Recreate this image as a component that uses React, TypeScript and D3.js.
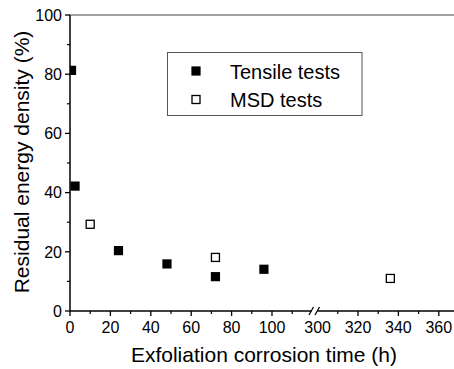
import React from "react";
import * as d3 from "d3";

const tensileX = [0.75, 2.5, 24, 48, 72, 96];
const tensileY = [81.3, 42.2, 20.4, 15.9, 11.6, 14.1];
const msdX = [10, 72, 336];
const msdY = [29.3, 18.1, 11.0];
const yTicks = [0, 20, 40, 60, 80, 100];
const yMinor = [10, 30, 50, 70, 90];
const x1Ticks = [0, 20, 40, 60, 80, 100];
const x1Minor = [10, 30, 50, 70, 90, 110];
const x2Ticks = [320, 340, 360];
const x2Minor = [310, 330, 350];
const x2LabelOnly = [300];
const legendLabels = ["Tensile tests", "MSD tests"];

const W = 454;
const H = 369;
const FONT = "'Liberation Sans', Arial, sans-serif";

export default function App() {
  const left = 70;
  const top = 15;
  const bottom = 311;
  const y = d3.scaleLinear().domain([0, 100]).range([bottom, top]);
  const x1 = d3.scaleLinear().domain([0, 120]).range([left, left + 120 * 2.02]);
  const x2 = d3.scaleLinear().domain([300, 368]).range([317.6, 317.6 + 68 * 2.02]);
  const xAny = (v: number) => (v >= 200 ? x2(v) : x1(v));
  const brk = 314.5;
  const sq = 9.2;
  const osq = 8;

  return (
    <svg width={W} height={H} style={{ position: "absolute", left: 0, top: 0 }} fontFamily={FONT}>
      <defs>
        <clipPath id="plotClip">
          <rect x={left} y={0} width={W - left} height={bottom + 5} />
        </clipPath>
      </defs>
      <rect x={0} y={0} width={W} height={H} fill="#fff" />
      {/* top frame line */}
      <line x1={left} x2={W} y1={top} y2={top} stroke="#444" strokeWidth={1.2} />
      {/* y axis */}
      <line x1={left} x2={left} y1={top} y2={bottom} stroke="#000" strokeWidth={1.5} />
      {yTicks.map((t) => (
        <g key={"yt" + t}>
          <line x1={left - 5} x2={left} y1={y(t)} y2={y(t)} stroke="#000" strokeWidth={1.3} />
          <text x={left - 8} y={y(t)} dy="0.36em" textAnchor="end" fontSize={16} fill="#000">
            {t}
          </text>
        </g>
      ))}
      {yMinor.map((t) => (
        <line key={"ym" + t} x1={left - 3} x2={left} y1={y(t)} y2={y(t)} stroke="#000" strokeWidth={1.2} />
      ))}
      {/* x axis */}
      <line x1={left} x2={brk - 3} y1={bottom} y2={bottom} stroke="#000" strokeWidth={1.5} />
      <line x1={brk + 3} x2={W} y1={bottom} y2={bottom} stroke="#000" strokeWidth={1.5} />
      <line x1={brk - 5.5} x2={brk - 1} y1={bottom + 4} y2={bottom - 4} stroke="#000" strokeWidth={1.3} />
      <line x1={brk + 0.5} x2={brk + 5} y1={bottom + 4} y2={bottom - 4} stroke="#000" strokeWidth={1.3} />
      {x1Ticks.map((t) => (
        <g key={"x1t" + t}>
          <line x1={x1(t)} x2={x1(t)} y1={bottom} y2={bottom + 5} stroke="#000" strokeWidth={1.3} />
          <text x={x1(t)} y={333} textAnchor="middle" fontSize={16} fill="#000">
            {t}
          </text>
        </g>
      ))}
      {x1Minor.map((t) => (
        <line key={"x1m" + t} x1={x1(t)} x2={x1(t)} y1={bottom} y2={bottom + 3} stroke="#000" strokeWidth={1.2} />
      ))}
      {x2Ticks.map((t) => (
        <g key={"x2t" + t}>
          <line x1={x2(t)} x2={x2(t)} y1={bottom} y2={bottom + 5} stroke="#000" strokeWidth={1.3} />
          <text x={x2(t)} y={333} textAnchor="middle" fontSize={16} fill="#000">
            {t}
          </text>
        </g>
      ))}
      {x2LabelOnly.map((t) => (
        <text key={"x2l" + t} x={x2(t)} y={333} textAnchor="middle" fontSize={16} fill="#000">
          {t}
        </text>
      ))}
      {x2Minor.map((t) => (
        <line key={"x2m" + t} x1={x2(t)} x2={x2(t)} y1={bottom} y2={bottom + 3} stroke="#000" strokeWidth={1.2} />
      ))}
      {/* data */}
      <g clipPath="url(#plotClip)">
        {tensileX.map((v, i) => (
          <rect
            key={"t" + i}
            x={xAny(v) - sq / 2}
            y={y(tensileY[i]) - sq / 2}
            width={sq}
            height={sq}
            fill="#000"
          />
        ))}
        {msdX.map((v, i) => (
          <rect
            key={"m" + i}
            x={xAny(v) - osq / 2}
            y={y(msdY[i]) - osq / 2}
            width={osq}
            height={osq}
            fill="#fff"
            stroke="#000"
            strokeWidth={1.3}
          />
        ))}
      </g>
      {/* legend */}
      <rect x={167.5} y={52.5} width={194.5} height={63} fill="#fff" stroke="#555" strokeWidth={1} />
      <rect x={196 - sq / 2} y={71 - sq / 2} width={sq} height={sq} fill="#000" />
      <rect x={196 - osq / 2} y={99.5 - osq / 2} width={osq} height={osq} fill="#fff" stroke="#000" strokeWidth={1.3} />
      <text x={230} y={78.5} fontSize={20} fill="#000">{legendLabels[0]}</text>
      <text x={230} y={107} fontSize={20} fill="#000">{legendLabels[1]}</text>
      {/* axis titles */}
      <text x={264} y={362} textAnchor="middle" fontSize={21} fill="#000">
        Exfoliation corrosion time (h)
      </text>
      <text
        transform={`translate(29,${162}) rotate(-90)`}
        textAnchor="middle"
        fontSize={21}
        fill="#000"
      >
        Residual energy density (%)
      </text>
    </svg>
  );
}
